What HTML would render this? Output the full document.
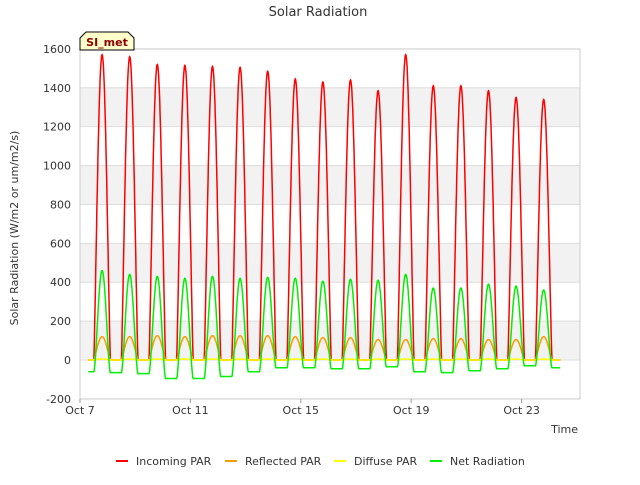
<!DOCTYPE html>
<html><head><meta charset="utf-8"><style>
body{margin:0;background:#fff;font-family:"Liberation Sans","DejaVu Sans",sans-serif}
</style></head><body>
<svg id="c" width="640" height="480" xmlns="http://www.w3.org/2000/svg" font-family="DejaVu Sans, Liberation Sans, sans-serif">
<text x="318" y="16" text-anchor="middle" font-size="13" fill="#333">Solar Radiation</text>
<g id="bands"></g><g id="grid"></g>
<rect x="80" y="49" width="500" height="350" fill="none" stroke="#ccc"/>
<g id="series"></g><g id="axes"></g>
<text transform="translate(18,228) rotate(-90)" text-anchor="middle" font-size="11" fill="#333">Solar Radiation (W/m2 or um/m2/s)</text>
<text x="578" y="433" text-anchor="end" font-size="11" fill="#333">Time</text>
<g><path d="M80,50 L80,38 L86,32 L128,32 L134,38 L134,50 Z" fill="#ffffcc" stroke="#000"/><text x="107" y="46" text-anchor="middle" font-size="11" font-weight="bold" fill="#8b0000">SI_met</text></g>
<g id="legend"></g>
</svg>
<script>
const ticksY=[-200,0,200,400,600,800,1000,1200,1400,1600];
const ticksX=[0,4,8,12,16];
const tickXLabels=["Oct 7","Oct 11","Oct 15","Oct 19","Oct 23"];
const incomingPeaks=[1570,1560,1520,1515,1510,1505,1485,1445,1430,1440,1385,1570,1410,1410,1385,1350,1340];
const reflectedPeaks=[120,120,125,120,125,125,125,120,115,115,105,105,110,110,105,105,120];
const diffusePeaks=[5,5,5,5,5,5,5,5,5,5,5,5,5,5,5,5,5];
const netPeaks=[460,440,430,420,430,420,425,420,405,415,410,440,370,370,390,380,360];
const netNight=[-60,-65,-70,-95,-95,-85,-60,-40,-40,-45,-45,-35,-60,-65,-55,-45,-30,-40];
const NS="http://www.w3.org/2000/svg";
const X=d=>80+d*27.6, Y=v=>360-v*0.19444;
function el(t,a,p){const e=document.createElementNS(NS,t);for(const k in a)e.setAttribute(k,a[k]);p.appendChild(e);return e;}
const bands=document.getElementById('bands'),grid=document.getElementById('grid'),axes=document.getElementById('axes'),series=document.getElementById('series');
for(let i=0;i<ticksY.length-1;i++){if(i%2==1){const b=el('rect',{x:80,y:Y(ticksY[i+1]),width:500,height:Y(ticksY[i])-Y(ticksY[i+1]),fill:'#f2f2f2'},bands);

}}
ticksY.forEach(v=>{const l=el('line',{x1:80,x2:580,y1:Y(v),y2:Y(v),stroke:'#ddd'},grid);


const t=el('text',{x:71,y:Y(v)+4,'text-anchor':'end','font-size':11,fill:'#333'},axes);t.textContent=v;

});
ticksX.forEach((d,i)=>{const t=el('text',{x:X(d),y:414,'text-anchor':'middle','font-size':11,fill:'#333'},axes);t.textContent=tickXLabels[i];


el('line',{x1:X(d),x2:X(d),y1:399,y2:403,stroke:'#999'},axes);});
const t0=0.3,t1=17.4,noon=0.8,hw=0.3;
function curve(peaks,night,pw){let pts=[];for(let t=t0;t<=t1;t+=0.01){let dd=Math.round(t-noon);if(dd<0)dd=0;if(dd>peaks.length-1)dd=peaks.length-1;
const off=(t-(dd+noon))/hw;let v;const n=night?night[Math.min(night.length-1,Math.max(0,Math.round(t-0.3)))]:0;
if(Math.abs(off)<1){const s=Math.pow(Math.cos(off*Math.PI/2),pw);v=n+(peaks[dd]-n)*s;}else v=n;
pts.push(X(t).toFixed(1)+','+Y(v).toFixed(1));}return pts.join(' ');}
function line(pts,color,name){const p=el('polyline',{points:pts,fill:'none',stroke:color,'stroke-width':1.5},series);

}
line(curve(incomingPeaks,null,1.2),'#ff0000','incoming-par-line');
line(curve(reflectedPeaks,null,1.2),'#ff9900','reflected-par-line');
line(curve(diffusePeaks,null,1.2),'#ffff00','diffuse-par-line');
line(curve(netPeaks,netNight,1.6),'#00ee00','net-radiation-line');
const leg=document.getElementById('legend');
[["Incoming PAR","#ff0000",116],["Reflected PAR","#ff9900",225],["Diffuse PAR","#ffff00",334],["Net Radiation","#00ee00",430]].forEach(([n,c,x])=>{
const g=el('g',{},leg);


el('line',{x1:x,x2:x+12,y1:461,y2:461,stroke:c,'stroke-width':2},g);
const t=el('text',{x:x+20,y:465,'font-size':11,fill:'#333'},g);t.textContent=n;});
</script>
</body></html>
